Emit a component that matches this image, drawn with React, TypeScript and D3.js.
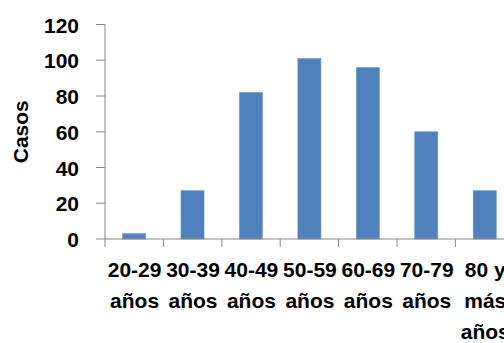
import React from "react";
import * as d3 from "d3";

const categories = ["20-29 años", "30-39 años", "40-49 años", "50-59 años", "60-69 años", "70-79 años", "80 y más años"];
const labelLines = [["20-29", "años"], ["30-39", "años"], ["40-49", "años"], ["50-59", "años"], ["60-69", "años"], ["70-79", "años"], ["80 y", "más", "años"]];
const casos = [3, 27, 82, 101, 96, 60, 27];
const yTicks = [0, 20, 40, 60, 80, 100, 120];
const yTitle = "Casos";

const W = 504;
const H = 343;
const FONT = "'Liberation Sans', Arial, Helvetica, sans-serif";
const AXIS = "#868686";
const BAR = "#4F81BD";

export default function App() {
  const x0 = 105;
  const step = 58.4;
  const x = d3
    .scaleBand<string>()
    .domain(categories)
    .range([x0, x0 + step * categories.length])
    .paddingInner(0.605)
    .paddingOuter(0.3);
  const y = d3.scaleLinear().domain([0, 120]).range([239, 24.5]);
  const yBase = y(0);

  return (
    <svg
      width={W}
      height={H}
      style={{ position: "absolute", left: 0, top: 0, display: "block", background: "#fff" }}
    >
      <rect x={0} y={0} width={W} height={H} fill="#fff" />
      {/* bars */}
      {categories.map((c, i) => (
        <rect
          key={c}
          x={x(c)!}
          y={y(casos[i])}
          width={x.bandwidth()}
          height={yBase - y(casos[i])}
          fill={BAR}
          stroke="#6f97c9"
          strokeWidth={0.6}
        />
      ))}
      {/* y axis */}
      <line x1={x0} x2={x0} y1={y(120)} y2={yBase + 8} stroke={AXIS} strokeWidth={1} />
      {yTicks.map((t) => (
        <g key={t}>
          <line x1={96} x2={x0} y1={y(t)} y2={y(t)} stroke={AXIS} strokeWidth={1} />
          <text
            x={79}
            y={y(t) + 8}
            textAnchor="end"
            fontFamily={FONT}
            fontWeight="bold"
            fontSize={21}
            fill="#000"
          >
            {t}
          </text>
        </g>
      ))}
      {/* x axis */}
      <line x1={x0} x2={W} y1={yBase} y2={yBase} stroke={AXIS} strokeWidth={1} />
      {categories.map((c, i) => {
        const bx = x0 + step * (i + 1);
        return <line key={"t" + c} x1={bx} x2={bx} y1={yBase} y2={yBase + 8} stroke={AXIS} strokeWidth={1} />;
      })}
      {categories.map((c, i) => {
        const cx = x(c)! + x.bandwidth() / 2;
        return (
          <text
            key={"l" + c}
            textAnchor="middle"
            fontFamily={FONT}
            fontWeight="bold"
            fontSize={21}
            fill="#000"
          >
            {labelLines[i].map((ln, j) => (
              <tspan key={j} x={cx + 0.5} y={277.3 + j * 30.6}>
                {ln}
              </tspan>
            ))}
          </text>
        );
      })}
      {/* y title */}
      <text
        transform={`translate(28, ${(y(0) + y(120)) / 2}) rotate(-90)`}
        textAnchor="middle"
        fontFamily={FONT}
        fontWeight="bold"
        fontSize={21}
        fill="#000"
      >
        {yTitle}
      </text>
    </svg>
  );
}
